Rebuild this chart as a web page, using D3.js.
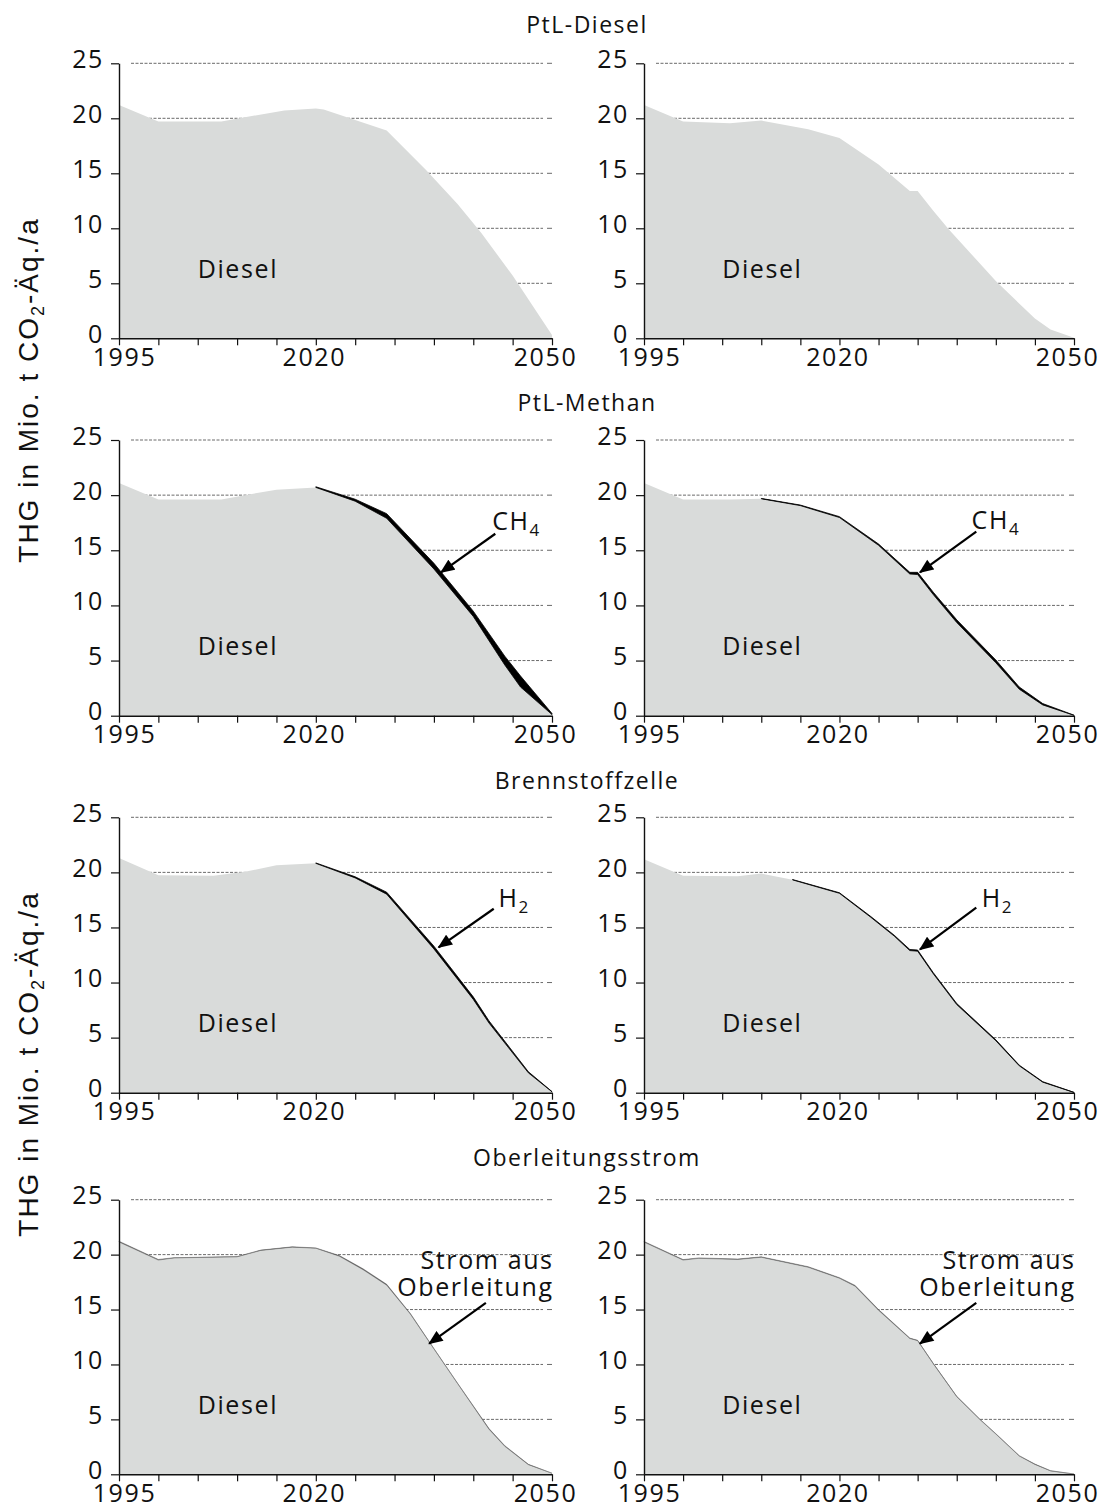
<!DOCTYPE html>
<html><head><meta charset="utf-8">
<script src="https://cdn.jsdelivr.net/npm/d3@7"></script>
<style>body{margin:0;background:#fff}svg{display:block}</style>
</head><body><svg id="c" width="1107" height="1508"></svg>
<script>
// ---------- data ----------
const yTicks = [0, 5, 10, 15, 20, 25];
const gridValues = [5, 10, 15, 20, 25];
const xTickYears = [1995, 2000, 2005, 2010, 2015, 2020, 2025, 2030, 2035, 2040, 2045, 2050];
const xLabelYears = [1995, 2020, 2050];
const rowTitles = ["PtL-Diesel", "PtL-Methan", "Brennstoffzelle", "Oberleitungsstrom"];
const yAxisTitle = ["THG in Mio. t CO", "2", "-Äq./a"];

// PtL-Diesel
const p1Years  = [1995, 2000, 2008, 2011, 2016, 2020, 2021, 2029, 2034, 2038, 2041, 2045, 2050];
const p1Diesel = [21.2, 19.7, 19.7, 20.1, 20.7, 20.9, 20.8, 18.9, 15.3, 12.2, 9.6, 5.7, 0.3];
const p2Years  = [1995, 2000, 2006, 2010, 2016, 2020, 2025, 2029, 2030, 2032, 2034, 2040, 2045, 2047, 2050];
const p2Diesel = [21.2, 19.7, 19.55, 19.8, 19.0, 18.2, 15.8, 13.4, 13.4, 11.6, 9.9, 5.2, 1.8, 0.8, 0.05];

// PtL-Methan
const p3Years  = [1995, 2000, 2008, 2011, 2015, 2020, 2025, 2029, 2035, 2040, 2044, 2046, 2050];
const p3Diesel = [21.1, 19.6, 19.6, 20.0, 20.5, 20.7, 19.45, 17.9, 13.3, 9.0, 4.6, 2.6, 0.1];
const p3CH4    = [null, null, null, null, null, 0.06, 0.18, 0.42, 0.52, 0.48, 0.8, 1.0, 0.1];
const p4Years  = [1995, 2000, 2006, 2010, 2015, 2020, 2025, 2029, 2030, 2032, 2035, 2040, 2043, 2046, 2050];
const p4Diesel = [21.1, 19.6, 19.6, 19.67, 19.05, 17.97, 15.45, 12.85, 12.8, 10.98, 8.45, 4.8, 2.4, 0.98, 0.03];
const p4CH4    = [null, null, null, 0.03, 0.05, 0.08, 0.12, 0.15, 0.2, 0.22, 0.25, 0.25, 0.2, 0.12, 0.02];

// Brennstoffzelle
const p5Years  = [1995, 2000, 2007, 2011, 2015, 2020, 2025, 2029, 2035, 2040, 2042, 2047, 2050];
const p5Diesel = [21.3, 19.75, 19.7, 20.05, 20.65, 20.82, 19.5, 18.02, 13.05, 8.47, 6.32, 1.8, 0.08];
const p5H2     = [null, null, null, null, null, 0.04, 0.1, 0.18, 0.25, 0.23, 0.2, 0.1, 0.02];
const p6Years  = [1995, 2000, 2007, 2010, 2014, 2020, 2024, 2027, 2029, 2030, 2032, 2035, 2040, 2043, 2046, 2050];
const p6Diesel = [21.2, 19.7, 19.65, 19.9, 19.32, 18.1, 15.93, 14.22, 12.9, 12.85, 10.8, 8.0, 4.72, 2.44, 0.96, 0.02];
const p6H2     = [null, null, null, null, 0.03, 0.05, 0.07, 0.08, 0.1, 0.1, 0.1, 0.1, 0.08, 0.06, 0.04, 0.01];

// Oberleitungsstrom
const p7Years  = [1995, 2000, 2002, 2010, 2013, 2017, 2020, 2023, 2026, 2029, 2032, 2035, 2038, 2042, 2044, 2047, 2050];
const p7Diesel = [21.15, 19.5, 19.7, 19.8, 20.38, 20.68, 20.58, 19.85, 18.63, 17.22, 14.6, 11.42, 8.27, 4.1, 2.55, 0.88, 0.09];
const p7Strom  = [0.07, 0.06, 0.02, 0.02, 0.03, 0.03, 0.03, 0.06, 0.08, 0.08, 0.05, 0.03, 0.03, 0.06, 0.06, 0.03, 0.01];
const p8Years  = [1995, 2000, 2002, 2007, 2010, 2016, 2020, 2022, 2025, 2029, 2030, 2032, 2035, 2038, 2040, 2043, 2045, 2047, 2050];
const p8Diesel = [21.14, 19.5, 19.66, 19.56, 19.76, 18.85, 17.85, 17.13, 14.93, 12.36, 12.17, 10.07, 7.07, 4.96, 3.67, 1.66, 0.9, 0.31, 0.02];
const p8Strom  = [0.06, 0.05, 0.04, 0.04, 0.04, 0.05, 0.05, 0.07, 0.07, 0.04, 0.03, 0.03, 0.03, 0.04, 0.03, 0.04, 0.03, 0.02, 0.01];

// annotation texts
const annoCH4 = { base: "CH", sub: "4" };
const annoH2  = { base: "H", sub: "2" };
const annoStrom = ["Strom aus", "Oberleitung"];

// ---------- layout ----------
const W = 1107, H = 1508;
const colX = [[119, 552], [644, 1074]];
const rowY = [[63.3, 338.3], [440, 715.7], [817.3, 1092.7], [1199.7, 1474.3]];
const titleY = [33, 411, 789, 1166];
const titleX = 587;
const yTitleY = [390, 1064];
const FONT = "'Open Sans', 'DejaVu Sans', sans-serif";
const FS = 25, LS = 1.6;

const panels = [
  { r: 0, c: 0, years: p1Years, diesel: p1Diesel },
  { r: 0, c: 1, years: p2Years, diesel: p2Diesel },
  { r: 1, c: 0, years: p3Years, diesel: p3Diesel, extra: p3CH4, extraFill: "#000",
    label: annoCH4, lab: [2042.4, 16.8], arr: [[2042.8, 16.5], [2035.9, 13.0]] },
  { r: 1, c: 1, years: p4Years, diesel: p4Diesel, extra: p4CH4, extraFill: "#000",
    label: annoCH4, lab: [2036.9, 16.9], arr: [[2037.5, 16.7], [2030.3, 13.0]] },
  { r: 2, c: 0, years: p5Years, diesel: p5Diesel, extra: p5H2, extraFill: "#000",
    label: annoH2, lab: [2043.2, 16.9], arr: [[2042.6, 16.7], [2035.6, 13.2]] },
  { r: 2, c: 1, years: p6Years, diesel: p6Diesel, extra: p6H2, extraFill: "#000",
    label: annoH2, lab: [2038.2, 16.9], arr: [[2037.5, 16.8], [2030.3, 13.0]] },
  { r: 3, c: 0, years: p7Years, diesel: p7Diesel, extra: p7Strom, extraFill: "#555",
    strom: true, arr: [[2041.6, 15.6], [2034.4, 11.9]] },
  { r: 3, c: 1, years: p8Years, diesel: p8Diesel, extra: p8Strom, extraFill: "#555",
    strom: true, arr: [[2037.5, 15.6], [2030.3, 11.9]] },
];

const svg = d3.select("#c");
svg.append("rect").attr("width", W).attr("height", H).attr("fill", "#fff");

const defs = svg.append("defs");
defs.append("marker").attr("id", "ah").attr("viewBox", "0 0 12 10")
  .attr("refX", 11).attr("refY", 5).attr("markerWidth", 7).attr("markerHeight", 5.5)
  .attr("markerUnits", "strokeWidth").attr("orient", "auto")
  .append("path").attr("d", "M0,0 L12,5 L0,10 Z").attr("fill", "#000");

// titles
rowTitles.forEach((t, i) => {
  svg.append("text").attr("x", titleX).attr("y", titleY[i])
    .attr("text-anchor", "middle").attr("font-family", FONT)
    .attr("font-size", 23).attr("letter-spacing", 1.5).attr("fill", "#111").text(t);
});

// y axis titles
yTitleY.forEach(cy => {
  const t = svg.append("text").attr("transform", `translate(28,${cy}) rotate(-90)`)
    .attr("text-anchor", "middle").attr("font-family", "'Liberation Sans', Arial, sans-serif")
    .attr("font-size", 28).attr("letter-spacing", 2).attr("fill", "#111").attr("dy", "0.35em");
  t.append("tspan").text(yAxisTitle[0]);
  t.append("tspan").attr("font-size", 18).attr("dy", 6).text(yAxisTitle[1]);
  t.append("tspan").attr("dy", -6).text(yAxisTitle[2]);
});

panels.forEach(p => {
  const [x0, x1] = colX[p.c];
  const [yt, yb] = rowY[p.r];
  const x = d3.scaleLinear().domain([1995, 2050]).range([x0, x1]);
  const y = d3.scaleLinear().domain([0, 25]).range([yb, yt]);
  const g = svg.append("g");

  // gridlines
  gridValues.forEach(v => {
    g.append("line").attr("x1", x0 + 12).attr("x2", x1 - 9)
      .attr("y1", y(v)).attr("y2", y(v))
      .attr("stroke", "#5a5a5a").attr("stroke-width", 0.9).attr("stroke-dasharray", "3,1.5");
    g.append("line").attr("x1", x1 - 5).attr("x2", x1)
      .attr("y1", y(v)).attr("y2", y(v))
      .attr("stroke", "#5a5a5a").attr("stroke-width", 0.9);
  });

  const data = p.years.map((yr, i) => ({
    year: yr, diesel: p.diesel[i], extra: p.extra ? p.extra[i] : null
  }));

  // diesel area
  g.append("path").datum(data)
    .attr("d", d3.area().x(d => x(d.year)).y0(y(0)).y1(d => y(d.diesel)))
    .attr("fill", "#d9dbda");

  // stacked extra (CH4 / H2 / Strom)
  if (p.extra) {
    const ar = d3.area().defined(d => d.extra != null)
      .x(d => x(d.year)).y0(d => y(d.diesel)).y1(d => y(d.diesel + d.extra));
    g.append("path").datum(data).attr("d", ar)
      .attr("fill", p.extraFill)
      .attr("stroke", p.strom ? "#666" : "#000")
      .attr("stroke-width", p.strom ? 0.5 : 0.8)
      .attr("stroke-linejoin", "round");
  }

  // axes
  const xa = d3.axisBottom(x).tickValues(xTickYears).tickSize(7).tickSizeOuter(0)
    .tickFormat(d => xLabelYears.includes(d) ? String(d) : "");
  const gx = g.append("g").attr("transform", `translate(0,${yb})`).call(xa);
  gx.select(".domain").attr("stroke", "#111").attr("stroke-width", 1.4);
  gx.selectAll(".tick line").attr("stroke", "#111").attr("stroke-width", 1.2);
  gx.selectAll(".tick text").attr("font-family", FONT).attr("font-size", FS)
    .attr("letter-spacing", LS).attr("fill", "#111")
    .attr("y", 27.5).attr("dy", 0)
    .attr("dx", d => d === 1995 ? 5 : d === 2050 ? -7 : -2);

  const ya = d3.axisLeft(y).tickValues(yTicks).tickSize(8).tickSizeOuter(0);
  const gy = g.append("g").attr("transform", `translate(${x0},0)`).call(ya);
  gy.select(".domain").attr("stroke", "#111").attr("stroke-width", 1.4);
  gy.selectAll(".tick line").attr("stroke", "#111").attr("stroke-width", 1.2);
  gy.selectAll(".tick text").attr("font-family", FONT).attr("font-size", FS)
    .attr("letter-spacing", LS).attr("fill", "#111")
    .attr("x", -15).attr("dy", 0).attr("y", 4);

  // Diesel label
  g.append("text").attr("x", x(2005)).attr("y", y(5.5))
    .attr("font-family", FONT).attr("font-size", FS).attr("letter-spacing", LS)
    .attr("fill", "#111").text("Diesel");

  // annotation labels
  if (p.label) {
    const t = g.append("text").attr("x", x(p.lab[0])).attr("y", y(p.lab[1]))
      .attr("font-family", FONT).attr("font-size", FS).attr("letter-spacing", LS).attr("fill", "#111");
    t.append("tspan").text(p.label.base);
    t.append("tspan").attr("font-size", 17).attr("dy", 6).text(p.label.sub);
  }
  if (p.strom) {
    annoStrom.forEach((s, i) => {
      g.append("text").attr("x", x(2050) + LS).attr("y", y(i === 0 ? 18.7 : 16.25))
        .attr("text-anchor", "end").attr("font-family", FONT).attr("font-size", FS)
        .attr("letter-spacing", LS).attr("fill", "#111").text(s);
    });
  }
  if (p.arr) {
    g.append("line")
      .attr("x1", x(p.arr[0][0])).attr("y1", y(p.arr[0][1]))
      .attr("x2", x(p.arr[1][0])).attr("y2", y(p.arr[1][1]))
      .attr("stroke", "#000").attr("stroke-width", 2.2)
      .attr("marker-end", "url(#ah)");
  }
});
</script>
</body></html>
